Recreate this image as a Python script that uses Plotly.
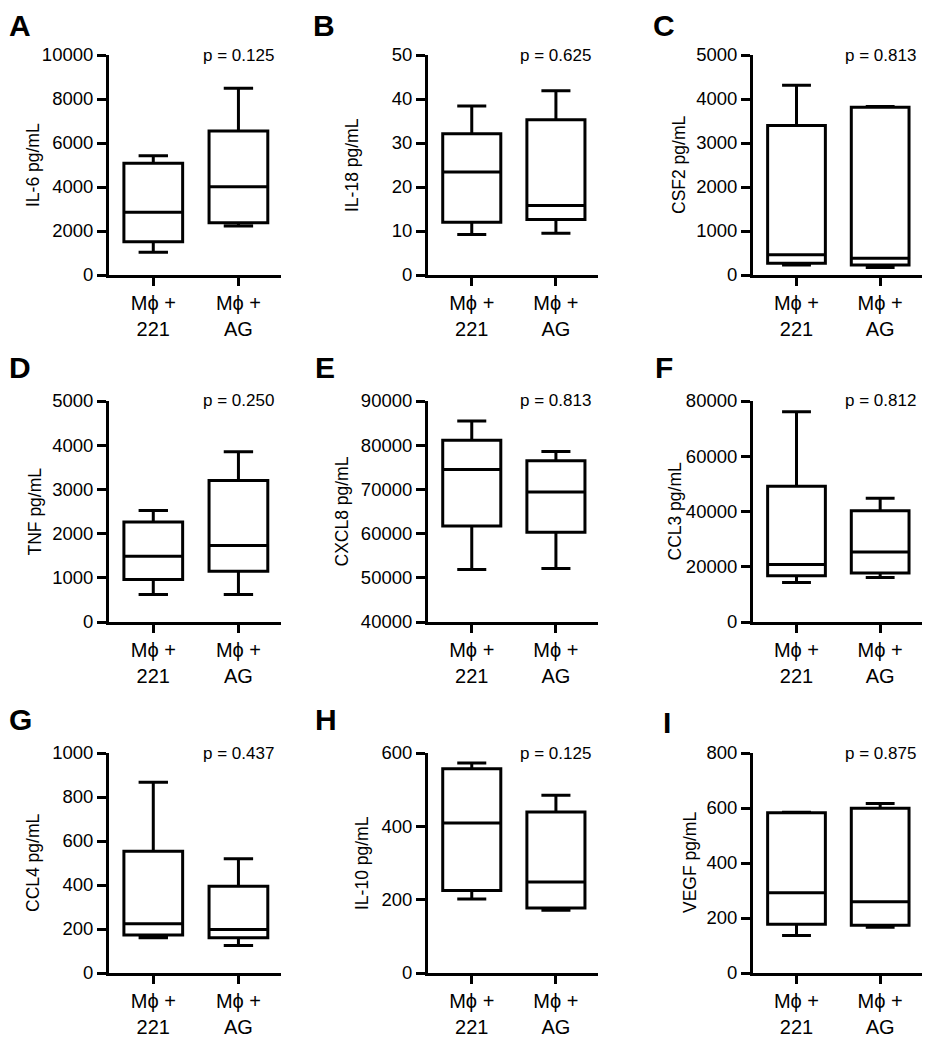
import plotly.graph_objects as go

# ---------------- data ----------------
panel_letters = ["A", "B", "C", "D", "E", "F", "G", "H", "I"]
y_titles = ["IL-6 pg/mL", "IL-18 pg/mL", "CSF2 pg/mL", "TNF pg/mL", "CXCL8 pg/mL",
            "CCL3 pg/mL", "CCL4 pg/mL", "IL-10 pg/mL", "VEGF pg/mL"]
p_values = ["p = 0.125", "p = 0.625", "p = 0.813", "p = 0.250", "p = 0.813",
            "p = 0.812", "p = 0.437", "p = 0.125", "p = 0.875"]
y_min = [0, 0, 0, 0, 40000, 0, 0, 0, 0]
y_max = [10000, 50, 5000, 5000, 90000, 80000, 1000, 600, 800]
y_step = [2000, 10, 1000, 1000, 10000, 20000, 200, 200, 200]
group_labels = ["Mϕ +<br>221", "Mϕ +<br>AG"]

# group "Mφ + 221"
min_221 = [1030, 9.2, 229, 620, 51900, 14300, 160, 202, 136]
q1_221 = [1515, 12.0, 267, 960, 61700, 16700, 173, 225, 177]
med_221 = [2850, 23.4, 458, 1490, 74500, 20800, 224, 409, 292]
q3_221 = [5076, 32.1, 3400, 2260, 81100, 49100, 553, 557, 583]
max_221 = [5423, 38.4, 4310, 2520, 85450, 76100, 867, 573, 585]

# group "Mφ + AG"
min_ag = [2227, 9.5, 168, 620, 52100, 16100, 125, 171, 166]
q1_ag = [2379, 12.6, 229, 1150, 60300, 17700, 160, 177, 174]
med_ag = [4015, 15.8, 382, 1730, 69400, 25300, 198, 248, 259]
q3_ag = [6545, 35.3, 3810, 3200, 76500, 40300, 394, 439, 599]
max_ag = [8485, 41.9, 3830, 3850, 78600, 44800, 519, 485, 616]

# ---------------- layout geometry (page pixels) ----------------
PAGE_W, PAGE_H = 938, 1050
OFF = 8                       # default page body margin
W, H = PAGE_W - OFF, PAGE_H - OFF
col_x = [(109, 281), (428, 598), (753, 922)]
row_y = [(55, 275), (401, 622), (753, 973)]
title_x = [33, 352, 679, 35, 342, 675, 33, 362, 690]
letter_pos = [(8, 8), (312, 8), (652, 8), (8, 350), (314, 350), (654, 350),
              (8, 702), (314, 702), (662, 705)]


def px(v):
    return (v - OFF) / W


def py(v):
    return 1 - (v - OFF) / H


FONT = "Arial, Liberation Sans, sans-serif"

fig = go.Figure()
layout = dict(width=W, height=H, margin=dict(l=0, r=0, t=0, b=0, pad=0),
              autosize=False,
              paper_bgcolor="white", plot_bgcolor="white", showlegend=False,
              font=dict(family=FONT, color="black"))
annotations = []

for i in range(9):
    r, c = divmod(i, 3)
    n = "" if i == 0 else str(i + 1)
    xa, ya = "x" + n, "y" + n
    x0, x1 = col_x[c]
    yt, yb = row_y[r]
    layout["xaxis" + n] = dict(
        domain=[px(x0), px(x1)], anchor=ya, range=[-0.52, 1.5],
        tickvals=[0, 1], ticktext=group_labels, ticks="outside", ticklen=8,
        tickwidth=3, tickcolor="black", showline=True, linewidth=3,
        linecolor="black", showgrid=False, zeroline=False, automargin=False,
        tickfont=dict(family=FONT, size=20, color="black"), fixedrange=True)
    layout["yaxis" + n] = dict(
        domain=[py(yb), py(yt)], anchor=xa,
        range=[y_min[i], y_max[i]], tick0=y_min[i], dtick=y_step[i],
        tickformat="d", ticks="outside", ticklen=9, tickwidth=3,
        tickcolor="black", showline=True, linewidth=3, linecolor="black",
        showgrid=False, zeroline=False, automargin=False,
        tickfont=dict(family=FONT, size=18.5, color="black"), fixedrange=True)

    fig.add_trace(go.Box(
        x=[0, 1],
        lowerfence=[min_221[i], min_ag[i]],
        q1=[q1_221[i], q1_ag[i]],
        median=[med_221[i], med_ag[i]],
        q3=[q3_221[i], q3_ag[i]],
        upperfence=[max_221[i], max_ag[i]],
        width=0.69, whiskerwidth=0.5,
        fillcolor="white", line=dict(color="black", width=3),
        boxpoints=False, xaxis=xa, yaxis=ya, hoverinfo="skip"))

    # p-value text
    annotations.append(dict(
        x=1, y=y_max[i], xref=xa, yref=ya, text=p_values[i], showarrow=False,
        xanchor="center", yanchor="middle",
        font=dict(family=FONT, size=17, color="black")))
    # y axis title
    annotations.append(dict(
        x=px(title_x[i]), y=py((yt + yb) / 2), xref="paper", yref="paper",
        text=y_titles[i], textangle=-90, showarrow=False,
        xanchor="center", yanchor="middle",
        font=dict(family=FONT, size=17.5, color="black")))
    # panel letter
    lx, ly = letter_pos[i]
    annotations.append(dict(
        x=px(lx), y=py(ly), xref="paper", yref="paper",
        text="<b>" + panel_letters[i] + "</b>", showarrow=False,
        xanchor="left", yanchor="top", borderpad=0,
        font=dict(family=FONT, size=30, color="black")))

layout["annotations"] = annotations
fig.update_layout(**layout)
fig.write_html("out.html")
